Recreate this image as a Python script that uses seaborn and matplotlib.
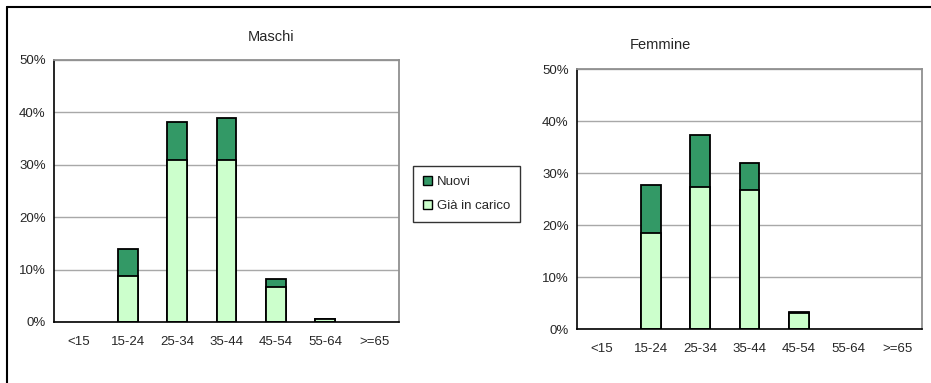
import matplotlib
matplotlib.use("Agg")
import matplotlib.pyplot as plt
from matplotlib.patches import Patch
from matplotlib.ticker import FixedLocator, PercentFormatter
import seaborn as sns
import pandas as pd

sns.set_style("white")
plt.rcParams["font.family"] = ["Liberation Sans", "DejaVu Sans"]

categories = ["<15", "15-24", "25-34", "35-44", "45-54", "55-64", ">=65"]
maschi_gia = [0.0, 8.7, 30.9, 31.0, 6.7, 0.6, 0.0]
maschi_nuovi = [0.0, 5.2, 7.2, 8.0, 1.6, 0.0, 0.0]
femmine_gia = [0.0, 18.4, 27.3, 26.7, 3.0, 0.0, 0.0]
femmine_nuovi = [0.0, 9.2, 10.0, 5.2, 0.3, 0.0, 0.0]

series_labels = ["Nuovi", "Già in carico"]
color_nuovi = "#339966"
color_gia = "#CCFFCC"

W, H = 931, 383
fig = plt.figure(figsize=(W / 100, H / 100), dpi=100)


def axes_px(left, top, right, bottom):
    return fig.add_axes([left / W, 1 - bottom / H, (right - left) / W, (bottom - top) / H])


def draw_panel(ax, gia, nuovi):
    df = pd.DataFrame({
        "cat": categories,
        "totale": [g + n for g, n in zip(gia, nuovi)],
        "gia": gia,
    })
    sns.barplot(data=df, x="cat", y="totale", order=categories, color=color_nuovi,
                saturation=1, width=0.4, edgecolor="black", linewidth=1.3, ax=ax)
    sns.barplot(data=df, x="cat", y="gia", order=categories, color=color_gia,
                saturation=1, width=0.4, edgecolor="black", linewidth=1.3, ax=ax)
    # hide zero-height bars
    for p in ax.patches:
        if p.get_height() <= 0:
            p.set_visible(False)
    ax.set_xlim(-0.5, len(categories) - 0.5)
    ax.set_ylim(0, 50)
    ax.set_yticks([0, 10, 20, 30, 40, 50])
    ax.yaxis.set_major_formatter(PercentFormatter(decimals=0))
    ax.set_xlabel("")
    ax.set_ylabel("")
    ax.grid(axis="y", color="#A8A8A8", linewidth=1.0)
    ax.set_axisbelow(True)
    for s in ["top", "right"]:
        ax.spines[s].set_color("#909090")
        ax.spines[s].set_linewidth(1.3)
    for s in ["left", "bottom"]:
        ax.spines[s].set_color("black")
        ax.spines[s].set_linewidth(1.2)
    ax.tick_params(axis="x", which="major", length=0, pad=10, labelsize=9.5)
    ax.xaxis.set_minor_locator(FixedLocator([i - 0.5 for i in range(len(categories) + 1)]))
    ax.tick_params(axis="x", which="minor", direction="out", length=4, width=1, color="black")
    ax.tick_params(axis="y", direction="out", length=4, width=1, color="black", labelsize=9.5, pad=2)


ax1 = axes_px(54, 60, 399, 322)
draw_panel(ax1, maschi_gia, maschi_nuovi)
ax2 = axes_px(577, 69, 922, 329)
draw_panel(ax2, femmine_gia, femmine_nuovi)

fig.text(271 / W, 1 - 37 / H, "Maschi", ha="center", va="center", fontsize=10.5)
fig.text(660 / W, 1 - 45 / H, "Femmine", ha="center", va="center", fontsize=10.5)

# outer frame (top and left edges)
fig.add_artist(plt.Line2D([7 / W, 1], [1 - 7 / H, 1 - 7 / H], color="black", linewidth=1.5))
fig.add_artist(plt.Line2D([7 / W, 7 / W], [1 - 7 / H, 0], color="black", linewidth=1.5))

handles = [Patch(facecolor=color_nuovi, edgecolor="black", linewidth=1.0, label=series_labels[0]),
           Patch(facecolor=color_gia, edgecolor="black", linewidth=1.0, label=series_labels[1])]
leg = fig.legend(handles=handles, loc="upper left", bbox_to_anchor=(413 / W, 1 - 166 / H),
                 frameon=True, fancybox=False, fontsize=9.5, handlelength=0.7, handleheight=0.7,
                 handletextpad=0.35, borderpad=0.75, labelspacing=0.9, borderaxespad=0)
leg.get_frame().set_edgecolor("black")
leg.get_frame().set_linewidth(1.0)

fig.savefig("out.png", dpi=100)
